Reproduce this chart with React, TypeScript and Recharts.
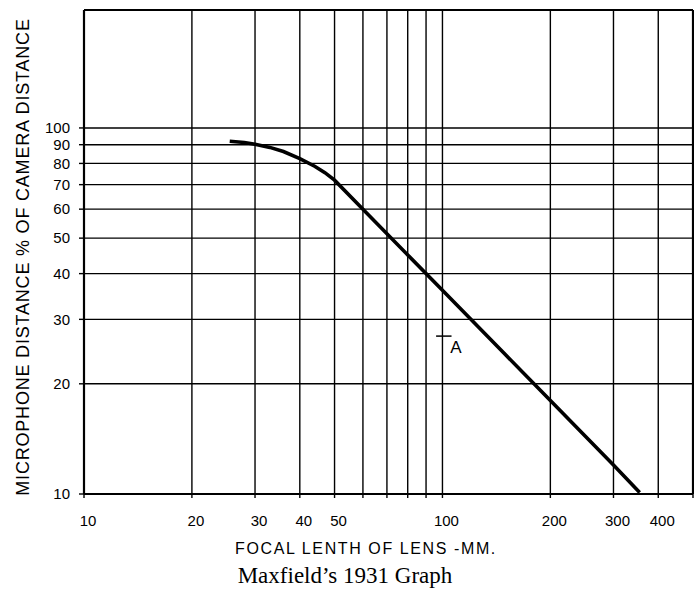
import React from 'react';
import {
  LineChart,
  Line,
  XAxis,
  YAxis,
  CartesianGrid,
  ReferenceLine,
  ReferenceDot,
  Label,
} from 'recharts';

// Focal length of lens (mm) and microphone distance (% of camera distance)
const focalLengths = [25.5, 28, 30, 33, 36, 40, 44, 47, 50, 60, 80, 100, 150, 200, 300, 355];
const micDistances = [92, 91.3, 90.3, 88.5, 86.2, 82.5, 78.6, 75.5, 72, 60, 45, 36, 24, 18, 12, 10.1];

const xTicks = [10, 20, 30, 40, 50, 60, 70, 80, 90, 100, 200, 300, 400, 500];
const xLabelled = [10, 20, 30, 40, 50, 100, 200, 300, 400];
const yTicks = [10, 20, 30, 40, 50, 60, 70, 80, 90, 100];

const xDomain = [10, 500];
const yDomain = [10, 210];

// Point "A" marker
const markFrom = { x: 96, y: 27 };
const markTo = { x: 106, y: 27 };
const markLabel = { x: 109, y: 25.2, text: 'A' };

const xTitle = 'FOCAL LENTH OF LENS -MM.';
const yTitle = 'MICROPHONE DISTANCE % OF CAMERA DISTANCE';
const caption = 'Maxfield\u2019s 1931 Graph';

const data = focalLengths.map((f, i) => ({ focal: f, dist: micDistances[i] }));

const SANS = '"Liberation Sans", Arial, Helvetica, sans-serif';
const SERIF = '"Liberation Serif", "Times New Roman", serif';

export default function App() {
  return (
    <div style={{ position: 'absolute', left: 0, top: 0, width: 694, height: 592, background: '#fff', overflow: 'hidden' }}>
      <LineChart
        width={694}
        height={592}
        data={data}
        margin={{ top: 10, right: 1, bottom: 0, left: 0 }}
      >
        <CartesianGrid stroke="#000" strokeWidth={1.4} />
        <XAxis
          dataKey="focal"
          type="number"
          scale="log"
          domain={xDomain}
          ticks={xTicks}
          height={98}
          interval={0}
          tickSize={4}
          tickMargin={17}
          tickFormatter={(v: number) => (xLabelled.includes(v) ? String(v) : '')}
          tick={{ fontSize: 15, fill: '#000', fontFamily: SANS, dx: 4 }}
          axisLine={{ stroke: '#000', strokeWidth: 2.2 }}
          tickLine={{ stroke: '#000', strokeWidth: 1.4 }}
          allowDataOverflow
        >
          <Label
            content={() => (
              <g>
                <text
                  x={366}
                  y={554}
                  textAnchor="middle"
                  fontFamily={SANS}
                  fontSize={16}
                  letterSpacing={1.6}
                  fill="#000"
                >
                  {xTitle}
                </text>
                <text
                  x={345}
                  y={583}
                  textAnchor="middle"
                  fontFamily={SERIF}
                  fontSize={23}
                  fill="#000"
                >
                  {caption}
                </text>
              </g>
            )}
          />
        </XAxis>
        <YAxis
          type="number"
          scale="log"
          domain={yDomain}
          ticks={yTicks}
          width={84}
          interval={0}
          tickSize={5}
          tickMargin={9}
          tick={{ fontSize: 15, fill: '#000', fontFamily: SANS }}
          axisLine={{ stroke: '#000', strokeWidth: 2.2 }}
          tickLine={{ stroke: '#000', strokeWidth: 1.4 }}
          allowDataOverflow
        >
          <Label
            content={() => (
              <text
                x={23}
                y={257}
                transform="rotate(-90, 23, 257)"
                textAnchor="middle"
                dominantBaseline="central"
                fontFamily={SANS}
                fontSize={18}
                letterSpacing={0.8}
                fill="#000"
              >
                {yTitle}
              </text>
            )}
          />
        </YAxis>
        <ReferenceLine y={yDomain[1]} stroke="#000" strokeWidth={2.2} />
        <ReferenceLine x={xDomain[1]} stroke="#000" strokeWidth={2.2} />
        <ReferenceLine segment={[markFrom, markTo]} stroke="#000" strokeWidth={1.5} />
        <ReferenceDot
          x={markLabel.x}
          y={markLabel.y}
          r={0}
          fill="none"
          stroke="none"
          label={{ value: markLabel.text, position: 'center', fontSize: 17, fill: '#000', fontFamily: SANS }}
        />
        <Line
          type="linear"
          dataKey="dist"
          stroke="#000"
          strokeWidth={3.6}
          dot={false}
          isAnimationActive={false}
        />
      </LineChart>
    </div>
  );
}
